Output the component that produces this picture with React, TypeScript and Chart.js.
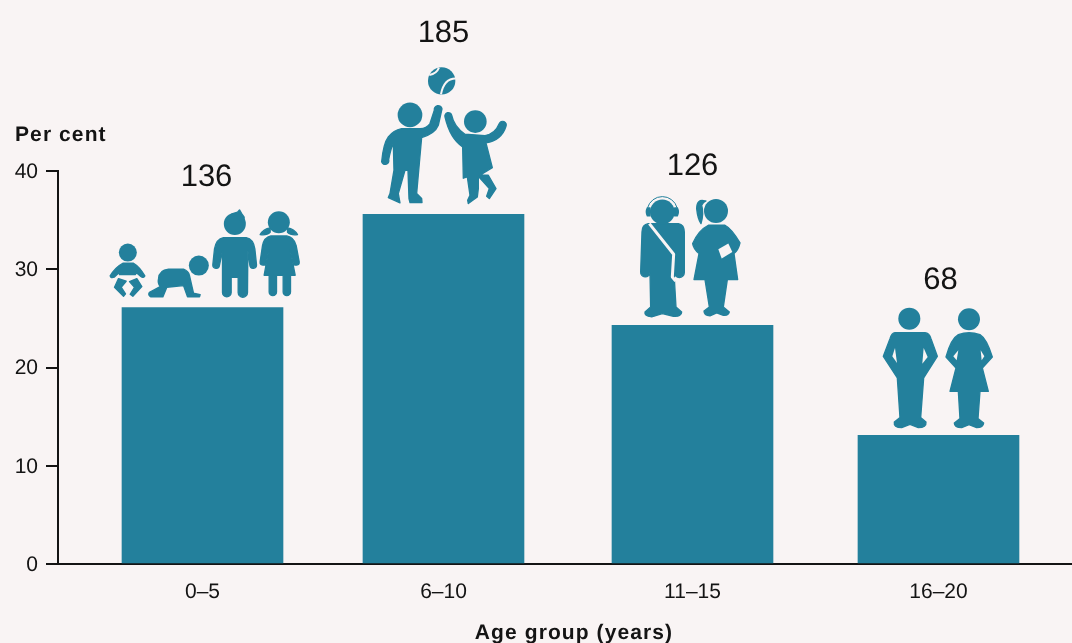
import React, { useEffect, useRef } from "react";
import { Chart, registerables } from "chart.js";

Chart.register(...registerables);

const categories = ["0–5", "6–10", "11–15", "16–20"];
const perCent = [26.1, 35.6, 24.3, 13.1];
const counts = [136, 185, 126, 68];
const yTicks = [0, 10, 20, 30, 40];

// Layout only: nudged slot centres (the reference's bars are not evenly spaced)
const slots = [0, 0.9823, 1.9973, 3];
const labelLift = [130, 181, 159, 155];
const labelShift = [4, 0, 0, 2];

const BG = "#F9F4F4";
const TEAL = "#23809C";
const INK = "#141414";
const FONT = '"Liberation Sans", Arial, sans-serif';

type Dot = [number, number, number];
type Group = {
  origin: [number, number];
  dots: Dot[];
  bodies: string[];
  cuts?: string[];
  seams?: { d: string; w: number }[];
  rings?: { d: string; w: number }[];
};

const groups: Group[] = [
  {
    origin: [307, 471],
    dots: [[83, 306, 27], [296, 345, 30], [404, 220, 33], [536, 215, 33]],
    bodies: [
      "M30,376 Q45,350 68,338 L100,338 Q118,348 134,376 Q130,384 122,378 L108,366 L106,372 L58,372 L57,366 L42,380 Q32,384 30,376Z",
      "M55,384 L78,392 L63,410 L76,430 L70,437 L43,410Z",
      "M110,384 L125,408 L98,437 L90,431 L103,410 L88,393Z",
      "M175,385 Q177,358 205,356 L250,356 Q265,362 268,375 L280,428 L300,432 L298,439 L262,439 L250,405 L200,410 L188,439 L152,439 Q142,434 148,425 L180,408 Q172,398 175,385Z",
      "M395,190 L412,185 L418,178 L425,190 L432,200 L430,215Z",
      "M370,261 L438,261 Q460,265 464,295 L469,342 A10,10 0 0 1 449,344 L443,300 L442,426 A13.5,13.5 0 0 1 414,426 L414,380 L393,380 L393,426 A13,13 0 0 1 367,426 L367,300 L358,344 A10,10 0 0 1 338,342 L343,295 Q348,265 370,261Z",
      "M510,232 Q490,235 480,252 Q500,255 510,245Z",
      "M562,232 Q582,235 592,252 Q572,255 562,245Z",
      "M512,256 L560,256 Q582,260 588,285 L597,333 A9,9 0 0 1 579,336 L570,298 L585,374 L571,374 L571,424 A11,11 0 0 1 549,424 L549,374 L529,374 L529,424 A11,11 0 0 1 507,424 L507,374 L492,374 L506,298 L498,336 A9,9 0 0 1 480,333 L487,285 Q492,260 512,256Z",
    ],
  },
  {
    origin: [220.5, 462],
    dots: [[215, 62, 41], [120, 164, 37], [316, 184, 34]],
    bodies: [
      "M95,205 L150,205 Q170,205 180,190 L193,150 A11,11 0 0 1 216,146 L205,195 Q195,220 155,232 L148,310 L140,400 L155,415 L156,427 L120,427 L117,415 L114,330 L105,330 L85,400 L90,428 L55,412 L60,400 L72,330 L70,250 Q62,265 56,298 A10,10 0 1 1 35,305 Q40,250 55,230 Q70,210 95,205Z",
      "M225,170 A10,10 0 0 1 245,165 Q252,200 285,222 L345,226 Q375,222 388,190 A10,10 0 0 1 408,198 Q395,240 348,248 L367,322 L330,345 L355,345 L378,385 L358,415 L350,408 L358,385 L325,348 L325,385 L322,410 L295,430 L293,420 L300,405 L292,350 L280,354 L278,260 Q240,235 225,170Z",
    ],
    seams: [
      { d: "M207,22 Q200,40 178,44", w: 6 },
      { d: "M257,55 Q222,55 213,102", w: 6 },
    ],
  },
  {
    origin: [187.5, 405],
    dots: [[97, 65, 37], [258, 62, 36]],
    bodies: [
      "M55,100 L145,100 Q163,103 163,125 L163,247 A15,15 0 0 1 133,247 L133,265 L138,350 L155,365 Q155,380 130,378 L97,370 L65,380 Q42,378 45,365 L62,350 L60,247 A14,14 0 0 1 32,245 L36,125 Q36,103 55,100Z",
      "M52,53 L60,53 L60,77 L52,77 Q46,65 52,53Z",
      "M134,53 L142,53 Q148,65 142,77 L134,77Z",
      "M225,32 Q200,25 200,55 Q203,85 213,100 Q222,70 215,45 Q220,35 228,32Z",
      "M235,105 L285,105 Q305,115 330,158 Q325,180 312,190 L323,268 L292,268 L280,350 L298,365 Q295,377 280,375 L260,368 L240,377 Q222,375 222,362 L238,350 L225,268 L192,268 L207,190 Q190,175 188,160 Q205,120 235,105Z",
    ],
    cuts: ["M265,177 L295,160 L307,185 L275,205Z"],
    seams: [{ d: "M58,100 L131,192 L127,260 L137,272", w: 9 }],
    rings: [{ d: "M52.6,53 A46,46 0 0 1 141.4,53", w: 3 }],
  },
  {
    origin: [190.5, 405],
    dots: [[103, 55, 33], [282, 57, 33]],
    bodies: [
      "M60,97 L150,97 Q163,98 168,115 L187,168 L146,233 L137,352 L153,365 Q155,382 130,382 L105,372 L80,382 Q55,382 58,365 L75,352 L67,233 L25,168 L45,115 Q50,98 60,97Z",
      "M250,103 Q282,92 315,103 Q335,115 352,170 L322,203 L340,273 L315,273 L309,355 L326,368 Q325,382 305,382 L282,373 L260,382 Q238,382 238,368 L255,355 L250,273 L225,273 L243,203 L213,170 Q228,115 250,103Z",
    ],
    cuts: [
      "M60,143 L66,188 L52,168Z",
      "M146,143 L142,190 L158,170Z",
      "M250,150 L245,180 L235,168Z",
      "M317,150 L328,168 L320,180Z",
    ],
  },
];

const drawGroup = (ctx: CanvasRenderingContext2D, g: Group, x: number, y: number) => {
  ctx.save();
  ctx.translate(x, y);
  ctx.scale(1 / 3, 1 / 3);
  ctx.translate(-g.origin[0], -g.origin[1]);
  ctx.fillStyle = TEAL;
  ctx.strokeStyle = TEAL;
  ctx.lineJoin = "round";
  g.dots.forEach(([cx, cy, r]) => {
    ctx.beginPath();
    ctx.arc(cx, cy, r, 0, Math.PI * 2);
    ctx.fill();
  });
  ctx.lineWidth = 4;
  g.bodies.forEach((d) => {
    const p = new Path2D(d);
    ctx.fill(p);
    ctx.stroke(p);
  });
  g.rings?.forEach(({ d, w }) => {
    ctx.lineWidth = w;
    ctx.stroke(new Path2D(d));
  });
  ctx.fillStyle = BG;
  ctx.strokeStyle = BG;
  g.cuts?.forEach((d) => ctx.fill(new Path2D(d)));
  g.seams?.forEach(({ d, w }) => {
    ctx.lineWidth = w;
    ctx.stroke(new Path2D(d));
  });
  ctx.restore();
};

const overlay = {
  id: "overlay",
  beforeDraw(chart: Chart) {
    (chart.ctx as any).textRendering = "geometricPrecision";
  },
  afterDraw(chart: Chart) {
    const ctx = chart.ctx;
    const bars = chart.getDatasetMeta(0).data;
    bars.forEach((bar: any, i: number) => {
      drawGroup(ctx, groups[i], bar.x, bar.y);
      ctx.save();
      ctx.fillStyle = INK;
      ctx.font = `31px ${FONT}`;
      ctx.textAlign = "center";
      ctx.textBaseline = "middle";
      ctx.fillText(String(counts[i]), bar.x + labelShift[i], bar.y - labelLift[i]);
      ctx.restore();
    });
    ctx.save();
    ctx.fillStyle = INK;
    ctx.font = `bold 21px ${FONT}`;
    (ctx as any).letterSpacing = "1.1px";
    ctx.textBaseline = "middle";
    ctx.textAlign = "left";
    ctx.fillText("Per cent", 15, 135);
    ctx.textAlign = "center";
    ctx.fillText("Age group (years)", 574, 633);
    ctx.restore();
  },
};

export default function App() {
  const ref = useRef<HTMLCanvasElement>(null);
  useEffect(() => {
    const unit = 245.33;
    const chart = new Chart(ref.current!, {
      type: "bar",
      data: {
        labels: categories,
        datasets: [
          {
            data: perCent.map((v, i) => ({ x: slots[i], y: v })),
            backgroundColor: TEAL,
            barThickness: 161,
            borderWidth: 0,
          },
        ],
      } as any,
      options: {
        responsive: false,
        animation: false,
        layout: { padding: { top: 171, right: 0, left: 0, bottom: 0 } },
        plugins: { legend: { display: false }, tooltip: { enabled: false } },
        scales: {
          x: {
            type: "linear",
            offset: false,
            min: (58 - 202.5) / unit,
            max: (1072 - 202.5) / unit,
            afterBuildTicks: (s: any) => {
              s.ticks = slots.map((value) => ({ value }));
            },
            afterFit: (s: any) => {
              s.height = 79;
            },
            grid: { display: false },
            border: { display: true, color: INK, width: 2 },
            ticks: {
              callback: (_v: any, i: number) => categories[i],
              color: INK,
              font: { family: FONT, size: 21 },
              padding: 8,
              maxRotation: 0,
              autoSkip: false,
            },
          },
          y: {
            min: 0,
            max: 40,
            afterBuildTicks: (s: any) => {
              s.ticks = yTicks.map((value) => ({ value }));
            },
            afterFit: (s: any) => {
              s.width = 58;
            },
            grid: { drawOnChartArea: false, drawTicks: true, tickLength: 12, color: INK, lineWidth: 2 },
            border: { display: true, color: INK, width: 2 },
            ticks: {
              color: INK,
              font: { family: FONT, size: 21 },
              padding: 8,
              labelOffset: 1,
            },
          },
        },
      },
      plugins: [overlay],
    } as any);
    return () => chart.destroy();
  }, []);
  return (
    <div style={{ position: "absolute", left: 0, top: 0, width: 1072, height: 643, background: BG, overflow: "hidden" }}>
      <canvas ref={ref} width={1072} height={643} style={{ display: "block" }} />
    </div>
  );
}
